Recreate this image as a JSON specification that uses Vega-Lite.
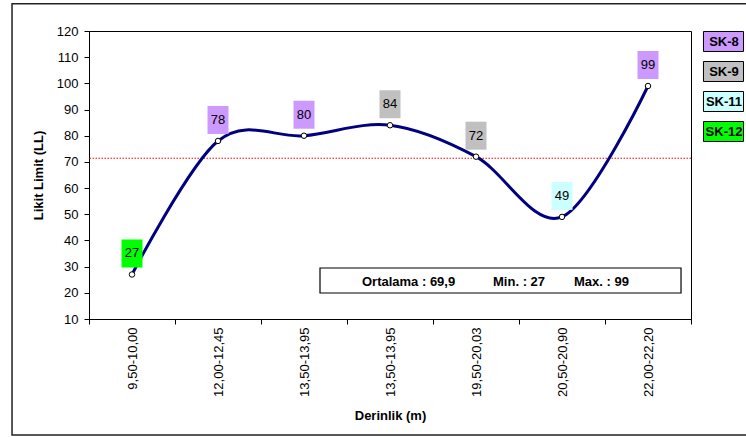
{
  "$schema": "https://vega.github.io/schema/vega-lite/v6.json",
  "autosize": {"type": "none"},
  "padding": {"left": 89, "top": 31, "right": 55, "bottom": 118},
  "width": 602,
  "height": 288,
  "background": "white",
  "config": {
    "font": "Liberation Sans",
    "view": {"stroke": "black", "strokeWidth": 1},
    "axis": {
      "labelFont": "Liberation Sans",
      "titleFont": "Liberation Sans",
      "labelColor": "black",
      "titleColor": "black",
      "domainColor": "black",
      "tickColor": "black",
      "grid": false,
      "labelFontSize": 13,
      "titleFontSize": 13,
      "titleFontWeight": "bold",
      "tickSize": 5,
      "labelOverlap": false
    }
  },
  "datasets": {
    "ll": [
      {"no": 1, "depth": "9,50-10,00", "ll": 27, "sk": "SK-12"},
      {"no": 2, "depth": "12,00-12,45", "ll": 78, "sk": "SK-8"},
      {"no": 3, "depth": "13,50-13,95", "ll": 80, "sk": "SK-8"},
      {"no": 4, "depth": "13,50-13,95", "ll": 84, "sk": "SK-9"},
      {"no": 5, "depth": "19,50-20,03", "ll": 72, "sk": "SK-9"},
      {"no": 6, "depth": "20,50-20,90", "ll": 49, "sk": "SK-11"},
      {"no": 7, "depth": "22,00-22,20", "ll": 99, "sk": "SK-8"}
    ]
  },
  "resolve": {"scale": {"x": "independent"}, "axis": {"x": "independent"}},
  "layer": [
    {
      "data": {"values": [{}]},
      "layer": [
        {
          "mark": {"type": "rect", "filled": false, "fill": null, "stroke": "#222222", "strokeWidth": 1.5},
          "encoding": {
            "x": {"datum": -1.395, "type": "quantitative", "scale": {"domain": [-0.5, 6.5], "nice": false, "zero": false}, "axis": null},
            "x2": {"datum": 7.4},
            "y": {
              "datum": 130.4,
              "type": "quantitative",
              "scale": {"domain": [10, 120], "nice": false, "zero": false},
              "axis": {
                "title": "Likit Limit (LL)",
                "values": [10, 20, 30, 40, 50, 60, 70, 80, 90, 100, 110, 120],
                "tickCount": 12,
                "labelOverlap": false,
                "labelFlush": false,
                "labelPadding": 6,
                "titlePadding": 11
              }
            },
            "y2": {"datum": -34.3}
          }
        },
        {
          "mark": {"type": "rule", "color": "#FF0000", "strokeWidth": 1, "strokeDash": [1.5, 1.5]},
          "encoding": {"y": {"datum": 71.4, "type": "quantitative"}}
        },
        {
          "mark": {"type": "rect", "fill": "white", "stroke": "black", "strokeWidth": 1.2},
          "encoding": {
            "x": {"datum": 2.186, "type": "quantitative"},
            "x2": {"datum": 6.384},
            "y": {"datum": 29.48, "type": "quantitative"},
            "y2": {"datum": 19.93}
          }
        },
        {
          "mark": {"type": "text", "align": "left", "baseline": "middle", "fontSize": 13, "fontWeight": "bold", "color": "black"},
          "encoding": {
            "x": {"datum": 2.674, "type": "quantitative"},
            "y": {"datum": 24.25, "type": "quantitative"},
            "text": {"value": "Ortalama : 69,9"}
          }
        },
        {
          "mark": {"type": "text", "align": "left", "baseline": "middle", "fontSize": 13, "fontWeight": "bold", "color": "black"},
          "encoding": {
            "x": {"datum": 4.198, "type": "quantitative"},
            "y": {"datum": 24.25, "type": "quantitative"},
            "text": {"value": "Min. : 27"}
          }
        },
        {
          "mark": {"type": "text", "align": "left", "baseline": "middle", "fontSize": 13, "fontWeight": "bold", "color": "black"},
          "encoding": {
            "x": {"datum": 5.14, "type": "quantitative"},
            "y": {"datum": 24.25, "type": "quantitative"},
            "text": {"value": "Max. : 99"}
          }
        }
      ]
    },
    {
      "data": {"name": "ll"},
      "encoding": {
        "x": {
          "field": "no",
          "type": "ordinal",
          "scale": {"paddingInner": 0, "paddingOuter": 0},
          "axis": {
            "orient": "bottom",
            "title": "Derinlik (m)",
            "labelAngle": -90,
            "tickBand": "extent",
            "labelPadding": 3,
            "titlePadding": 13,
            "labelExpr": "['9,50-10,00','12,00-12,45','13,50-13,95','13,50-13,95','19,50-20,03','20,50-20,90','22,00-22,20'][datum.value-1]"
          }
        },
        "y": {
          "field": "ll",
          "type": "quantitative",
          "scale": {"domain": [10, 120], "nice": false, "zero": false},
          "axis": {
            "title": "Likit Limit (LL)",
            "values": [10, 20, 30, 40, 50, 60, 70, 80, 90, 100, 110, 120],
            "tickCount": 12,
            "labelOverlap": false,
            "labelFlush": false,
            "labelPadding": 6,
            "titlePadding": 11
          }
        }
      },
      "layer": [
        {
          "mark": {"type": "line", "interpolate": "cardinal", "tension": 0, "color": "#000080", "strokeWidth": 3}
        },
        {
          "mark": {"type": "point", "shape": "circle", "filled": true, "fill": "white", "stroke": "black", "strokeWidth": 1, "size": 30, "opacity": 1}
        },
        {
          "mark": {"type": "point", "shape": "M-1,-3.333H1V-0.667H-1Z", "filled": true, "size": 441, "opacity": 1, "strokeWidth": 0},
          "encoding": {
            "fill": {
              "field": "sk",
              "type": "nominal",
              "scale": {"domain": ["SK-8", "SK-9", "SK-11", "SK-12"], "range": ["#CC99FF", "#C0C0C0", "#CCFFFF", "#00FF00"]},
              "legend": {
                "title": null,
                "orient": "none",
                "legendX": 620,
                "legendY": -4,
                "padding": 0,
                "symbolType": "M-1.43,-0.714H1.43V0.714H-1.43Z",
                "symbolSize": 784,
                "symbolStrokeColor": "black",
                "symbolStrokeWidth": 1,
                "symbolOpacity": 1,
                "labelFont": "Liberation Sans",
                "labelFontSize": 13,
                "labelFontWeight": "bold",
                "labelColor": "black",
                "labelAlign": "center",
                "labelOffset": -14,
                "rowPadding": 3
              }
            }
          }
        },
        {
          "mark": {"type": "text", "dy": -21, "baseline": "middle", "align": "center", "fontSize": 13, "color": "black"},
          "encoding": {"text": {"field": "ll", "type": "quantitative"}}
        }
      ]
    }
  ]
}
